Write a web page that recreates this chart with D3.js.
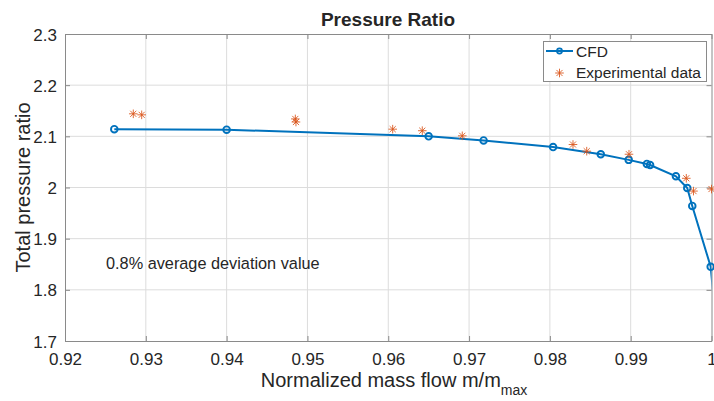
<!DOCTYPE html>
<html>
<head>
<meta charset="utf-8">
<script src="https://cdn.jsdelivr.net/npm/d3@7"></script>
<style>
  html, body { margin: 0; padding: 0; background: #fff; }
  svg { display: block; }
  text { font-family: "Liberation Sans", Arial, Helvetica, sans-serif; fill: #262626; }
</style>
</head>
<body>
<svg id="chart" width="714" height="401"></svg>
<script>
// ---- data ----
const cfdX = [0.9261, 0.9400, 0.9650, 0.9718, 0.9804, 0.9863, 0.98975, 0.9920, 0.9924, 0.9956, 0.9970, 0.99762, 0.9999, 1.0004];
const cfdY = [2.114, 2.113, 2.100, 2.092, 2.079, 2.065, 2.054, 2.046, 2.044, 2.022, 1.999, 1.964, 1.845, 1.760];
const expX = [0.92845, 0.92949, 0.94850, 0.94858, 0.96055, 0.96421, 0.96916, 0.98286, 0.98456, 0.98979, 0.99688, 0.99777, 1.0000];
const expY = [2.144, 2.142, 2.134, 2.128, 2.114, 2.111, 2.101, 2.084, 2.071, 2.065, 2.018, 1.993, 1.997];
const xTicks = [0.92, 0.93, 0.94, 0.95, 0.96, 0.97, 0.98, 0.99, 1.00];
const xTickLabels = ["0.92", "0.93", "0.94", "0.95", "0.96", "0.97", "0.98", "0.99", "1"];
const yTicks = [1.7, 1.8, 1.9, 2.0, 2.1, 2.2, 2.3];
const yTickLabels = ["1.7", "1.8", "1.9", "2", "2.1", "2.2", "2.3"];
const seriesNames = ["CFD", "Experimental data"];
const titleText = "Pressure Ratio";
const xLabelText = "Normalized mass flow m/m";
const xLabelSub = "max";
const yLabelText = "Total pressure ratio";
const noteText = "0.8% average deviation value";

// ---- layout ----
const L = 65, R = 711.5, T = 34, B = 341;
const blue = "#0072BD", orange = "#D95319";
const svg = d3.select("#chart");
const x = d3.scaleLinear().domain([0.92, 1.0]).range([L, R]);
const y = d3.scaleLinear().domain([1.7, 2.3]).range([B, T]);

svg.append("defs").append("clipPath").attr("id", "clip")
  .append("rect").attr("x", L).attr("y", T).attr("width", R - L).attr("height", B - T);

// grid
const g = svg.append("g");
g.selectAll(".vg").data(xTicks.slice(1, -1)).join("line")
  .attr("x1", d => x(d)).attr("x2", d => x(d)).attr("y1", T).attr("y2", B)
  .attr("stroke", "#dcdcdc").attr("stroke-width", 1);
g.selectAll(".hg").data(yTicks.slice(1, -1)).join("line")
  .attr("y1", d => y(d)).attr("y2", d => y(d)).attr("x1", L).attr("x2", R)
  .attr("stroke", "#dcdcdc").attr("stroke-width", 1);

// axes via d3 axis
const axCol = "#8a8a8a";
const xAxis = svg.append("g").attr("transform", `translate(0,${B})`)
  .call(d3.axisBottom(x).tickValues(xTicks).tickSizeInner(-5).tickSizeOuter(0).tickPadding(12)
    .tickFormat((d, i) => xTickLabels[i]));
const yAxis = svg.append("g").attr("transform", `translate(${L},0)`)
  .call(d3.axisLeft(y).tickValues(yTicks).tickSizeInner(-5).tickSizeOuter(0).tickPadding(8)
    .tickFormat((d, i) => yTickLabels[i]));
const xTop = svg.append("g").attr("transform", `translate(0,${T})`)
  .call(d3.axisTop(x).tickValues(xTicks).tickSizeInner(-5).tickSizeOuter(0).tickFormat(""));
const yRight = svg.append("g").attr("transform", `translate(${R},0)`)
  .call(d3.axisRight(y).tickValues(yTicks).tickSizeInner(-5).tickSizeOuter(0).tickFormat(""));
[xAxis, yAxis, xTop, yRight].forEach(a => {
  a.selectAll("path.domain").attr("stroke", axCol).attr("stroke-width", 1);
  a.selectAll(".tick line").attr("stroke", axCol);
  a.selectAll("text").attr("font-size", 17).attr("fill", "#262626")
    .attr("font-family", "'Liberation Sans', Arial, sans-serif");
});
xAxis.selectAll("text").attr("dy", "0.71em");
yAxis.selectAll("text").attr("dy", "0.36em");

// CFD line
const pts = cfdX.map((v, i) => [v, cfdY[i]]);
const plot = svg.append("g").attr("clip-path", "url(#clip)");
plot.append("path").datum(pts)
  .attr("d", d3.line().x(d => x(d[0])).y(d => y(d[1])))
  .attr("fill", "none").attr("stroke", blue).attr("stroke-width", 2);
svg.append("g").selectAll(".cm").data(pts.filter(d => d[0] <= 1.0)).join("circle")
  .attr("cx", d => x(d[0])).attr("cy", d => y(d[1])).attr("r", 3.3)
  .attr("fill", "none").attr("stroke", blue).attr("stroke-width", 1.9);

// asterisk marker
function star(cx, cy, s) {
  const d = s * 0.7071;
  return `M${cx - s},${cy}L${cx + s},${cy}M${cx},${cy - s}L${cx},${cy + s}` +
         `M${cx - d},${cy - d}L${cx + d},${cy + d}M${cx - d},${cy + d}L${cx + d},${cy - d}`;
}
const epts = expX.map((v, i) => [v, expY[i]]);
svg.append("g").selectAll("path").data(epts).join("path")
  .attr("d", d => star(x(d[0]), y(d[1]), 4.3))
  .attr("stroke", orange).attr("stroke-width", 1).attr("fill", "none").attr("opacity", 0.85);

// legend
const lg = svg.append("g");
lg.append("rect").attr("x", 543.5).attr("y", 41.5).attr("width", 163).attr("height", 40)
  .attr("fill", "#fff").attr("stroke", "#8a8a8a").attr("stroke-width", 1);
lg.append("line").attr("x1", 546).attr("x2", 573).attr("y1", 51).attr("y2", 51)
  .attr("stroke", blue).attr("stroke-width", 2);
lg.append("circle").attr("cx", 559.5).attr("cy", 51).attr("r", 2.6)
  .attr("fill", "none").attr("stroke", blue).attr("stroke-width", 1.6);
lg.append("path").attr("d", star(559.5, 73, 4.3)).attr("stroke", orange).attr("stroke-width", 1)
  .attr("fill", "none").attr("opacity", 0.85);
lg.append("text").attr("x", 576).attr("y", 57).attr("font-size", 15.5).text(seriesNames[0]);
lg.append("text").attr("x", 576).attr("y", 78).attr("font-size", 15.5).text(seriesNames[1]);

// titles
svg.append("text").attr("x", 388).attr("y", 26).attr("text-anchor", "middle")
  .attr("font-size", 19).attr("font-weight", "bold").attr("fill", "#000").text(titleText);
const xl = svg.append("text").attr("x", 394).attr("y", 387).attr("text-anchor", "middle")
  .attr("font-size", 20);
xl.append("tspan").text(xLabelText);
xl.append("tspan").attr("font-size", 14).attr("dy", 8).text(xLabelSub);
svg.append("text").attr("transform", `translate(30,${(T + B) / 2}) rotate(-90)`)
  .attr("text-anchor", "middle").attr("font-size", 20).text(yLabelText);
svg.append("text").attr("x", 106).attr("y", 269).attr("font-size", 16.3)
  .attr("font-family", "'Noto Sans', 'Open Sans', sans-serif").attr("fill", "#000").text(noteText);
</script>
</body>
</html>
